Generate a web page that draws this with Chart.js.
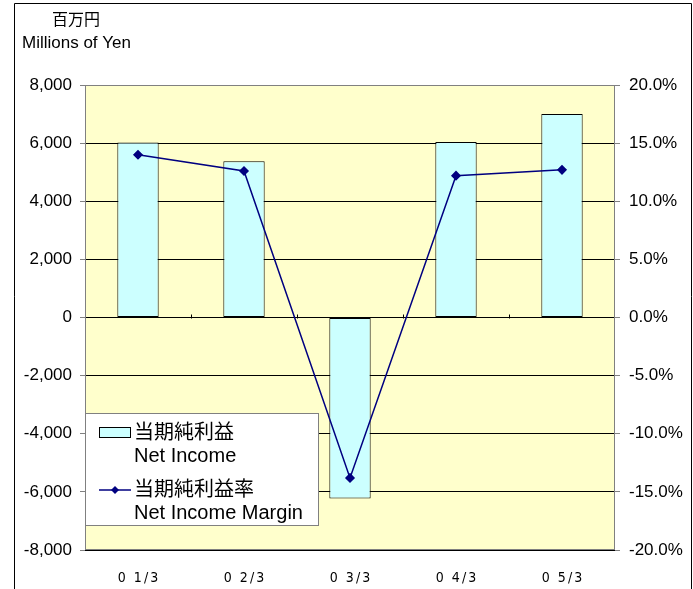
<!DOCTYPE html>
<html>
<head>
<meta charset="utf-8">
<script src="https://cdn.jsdelivr.net/npm/chart.js@4.4.0/dist/chart.umd.min.js"></script>
<style>
  html, body { margin: 0; padding: 0; background: #ffffff; }
  #wrap { position: relative; width: 693px; height: 589px; }
</style>
</head>
<body>
<div id="wrap"><canvas id="c" width="693" height="589"></canvas></div>
<script>
const categories = ["0 1/3", "0 2/3", "0 3/3", "0 4/3", "0 5/3"];
const netIncome = [6020, 5380, -6230, 6040, 7000];
const netIncomeMargin = [14.0, 12.6, -13.8, 12.2, 12.7];
const leftTicks = [-8000, -6000, -4000, -2000, 0, 2000, 4000, 6000, 8000];
const rightTicks = [-20, -15, -10, -5, 0, 5, 10, 15, 20];
const legendLabels = [["当期純利益", "Net Income"], ["当期純利益率", "Net Income Margin"]];
const unitLabels = ["百万円", "Millions of Yen"];

const FONT = "'Liberation Sans', Arial, 'Noto Sans CJK JP', sans-serif";
const NARROW = "'Liberation Sans Narrow', 'DejaVu Sans Condensed', 'Liberation Sans', sans-serif";

const decor = {
  id: 'decor',
  beforeDraw(chart) {
    const { ctx, chartArea: a } = chart;
    ctx.save();
    ctx.fillStyle = '#FFFFCC';
    ctx.fillRect(a.left, a.top, a.right - a.left, a.bottom - a.top);
    // outer frame
    ctx.strokeStyle = '#000000';
    ctx.lineWidth = 1;
    ctx.beginPath();
    ctx.moveTo(14.5, 600); ctx.lineTo(14.5, 3.5); ctx.lineTo(691.5, 3.5); ctx.lineTo(691.5, 600);
    ctx.stroke();
    // unit labels
    ctx.fillStyle = '#000';
    ctx.textBaseline = 'middle';
    ctx.textAlign = 'center';
    ctx.font = "16px " + FONT;
    ctx.fillText(unitLabels[0], 76, 21);
    ctx.textAlign = 'left';
    ctx.font = "17px " + FONT;
    ctx.fillText(unitLabels[1], 22, 43);
    // category labels
    const xs = chart.scales.x;
    ctx.font = "14px " + NARROW;
    ctx.textAlign = 'center';
    try { ctx.letterSpacing = '2px'; } catch (e) {}
    chart.data.labels.forEach((lab, i) => {
      ctx.fillText(lab, xs.getPixelForValue(i) + 1, 578);
    });
    ctx.restore();
  },
  beforeDatasetsDraw(chart) {
    const { ctx, chartArea: a, scales } = chart;
    ctx.save();
    // plot border
    ctx.strokeStyle = '#808080';
    ctx.lineWidth = 1;
    ctx.strokeRect(a.left + 0.5, a.top + 0.5, a.right - a.left - 1, a.bottom - a.top - 1);
    // category boundary ticks on the zero line
    const y0 = Math.round(scales.y.getPixelForValue(0)) + 0.5;
    ctx.strokeStyle = '#000';
    ctx.beginPath();
    for (let i = 0; i < categories.length - 1; i++) {
      const x = Math.round((scales.x.getPixelForValue(i) + scales.x.getPixelForValue(i + 1)) / 2) + 0.5;
      ctx.moveTo(x, y0); ctx.lineTo(x, y0 - 4);
    }
    ctx.stroke();
    ctx.restore();
  },
  afterDraw(chart) {
    const { ctx } = chart;
    const barDs = chart.data.datasets[1];
    const lineDs = chart.data.datasets[0];
    ctx.save();
    // legend box
    const L = 85, T = 413, R = 319, B = 526;
    ctx.fillStyle = '#ffffff';
    ctx.fillRect(L, T, R - L, B - T);
    ctx.strokeStyle = '#808080';
    ctx.lineWidth = 1;
    ctx.strokeRect(L + 0.5, T + 0.5, R - L - 1, B - T - 1);
    // bar swatch
    ctx.fillStyle = barDs.backgroundColor;
    ctx.fillRect(99, 427, 31, 10);
    ctx.strokeStyle = '#000';
    ctx.strokeRect(99.5, 427.5, 31, 10);
    // line swatch
    ctx.strokeStyle = lineDs.borderColor;
    ctx.lineWidth = 1.5;
    ctx.beginPath(); ctx.moveTo(99, 490); ctx.lineTo(131, 490); ctx.stroke();
    ctx.fillStyle = lineDs.pointBackgroundColor;
    ctx.beginPath();
    ctx.moveTo(115, 486); ctx.lineTo(119, 490); ctx.lineTo(115, 494); ctx.lineTo(111, 490); ctx.closePath();
    ctx.fill();
    // texts
    ctx.fillStyle = '#000';
    ctx.textAlign = 'left';
    ctx.textBaseline = 'middle';
    ctx.font = "20px " + FONT;
    ctx.fillText(legendLabels[0][0], 134, 433);
    ctx.fillText(legendLabels[0][1], 134, 456);
    ctx.fillText(legendLabels[1][0], 134, 490);
    ctx.fillText(legendLabels[1][1], 134, 513);
    ctx.restore();
  }
};

new Chart(document.getElementById('c'), {
  data: {
    labels: categories,
    datasets: [
      {
        type: 'line',
        label: 'Net Income Margin',
        data: netIncomeMargin,
        yAxisID: 'y2',
        borderColor: '#000080',
        backgroundColor: '#000080',
        pointBackgroundColor: '#000080',
        pointBorderColor: '#000080',
        borderWidth: 1.5,
        pointStyle: 'rectRot',
        pointRadius: 4,
        tension: 0,
        order: 0
      },
      {
        type: 'bar',
        label: 'Net Income',
        data: netIncome,
        yAxisID: 'y',
        backgroundColor: '#CCFFFF',
        borderColor: '#000000',
        borderWidth: 1,
        borderSkipped: false,
        categoryPercentage: 1,
        barPercentage: 0.39,
        order: 1
      }
    ]
  },
  options: {
    responsive: false,
    animation: false,
    layout: { padding: { left: 0, right: 0, top: 85, bottom: 0 } },
    plugins: { legend: { display: false }, tooltip: { enabled: false } },
    scales: {
      x: {
        grid: { display: false, drawTicks: false },
        border: { display: false },
        ticks: { display: false },
        afterFit(s) { s.height = 39; }
      },
      y: {
        position: 'left',
        min: -8000, max: 8000,
        afterBuildTicks(s) { s.ticks = leftTicks.map(v => ({ value: v })); },
        grid: { color: '#000000', lineWidth: 1, tickLength: 5, tickColor: '#808080' },
        border: { display: false },
        ticks: {
          padding: 8, color: '#000', font: { family: FONT, size: 17 },
          callback: v => v.toLocaleString('en-US')
        },
        afterFit(s) { s.width = 85; }
      },
      y2: {
        position: 'right',
        min: -20, max: 20,
        afterBuildTicks(s) { s.ticks = rightTicks.map(v => ({ value: v })); },
        grid: { drawOnChartArea: false, tickLength: 5, tickColor: '#808080' },
        border: { display: false },
        ticks: {
          padding: 9, color: '#000', font: { family: FONT, size: 17 },
          callback: v => v.toFixed(1) + '%'
        },
        afterFit(s) { s.width = 78; }
      }
    }
  },
  plugins: [decor]
});
</script>
</body>
</html>
